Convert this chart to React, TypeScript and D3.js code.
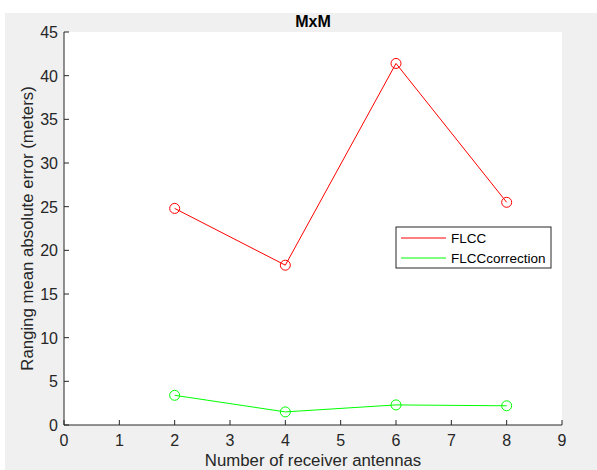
import React from "react";
import * as d3 from "d3";

const xValues = [2, 4, 6, 8];
const flcc = [24.8, 18.3, 41.4, 25.5];
const flccCorrection = [3.4, 1.5, 2.3, 2.2];
const xTicks = [0, 1, 2, 3, 4, 5, 6, 7, 8, 9];
const yTicks = [0, 5, 10, 15, 20, 25, 30, 35, 40, 45];
const seriesNames = ["FLCC", "FLCCcorrection"];
const seriesColors = ["#ff0000", "#00ff00"];

export default function App() {
  const W = 597, H = 470;
  const left = 64, right = 562, top = 32, bottom = 425;
  const x = d3.scaleLinear().domain([0, 9]).range([left, right]);
  const y = d3.scaleLinear().domain([0, 45]).range([bottom, top]);
  const line = d3.line<number>().x((_, i) => x(xValues[i])).y((d) => y(d));
  const series = [flcc, flccCorrection];
  const font = "'Liberation Sans', Arial, Helvetica, sans-serif";
  const lx = 396, ly = 227, lw = 155, lh = 41;
  return (
    <svg width={W} height={H} style={{ position: "absolute", left: 0, top: 0 }} fontFamily={font}>
      <rect x={0} y={0} width={W} height={H} fill="#ffffff" />
      <rect x={5} y={13} width={W - 5} height={H - 13} fill="#f0f0f0" />
      <rect x={left} y={top} width={right - left} height={bottom - top} fill="#ffffff" />
      <text x={(left + right) / 2} y={27} textAnchor="middle" fontSize={16} fontWeight="bold" fill="#000">MxM</text>
      {/* axes */}
      <line x1={left} y1={bottom} x2={right} y2={bottom} stroke="#262626" strokeWidth={1} />
      <line x1={left} y1={bottom} x2={left} y2={top} stroke="#262626" strokeWidth={1} />
      {xTicks.map((t) => (
        <g key={"x" + t}>
          <line x1={x(t)} x2={x(t)} y1={bottom} y2={bottom - 5} stroke="#262626" />
          <text x={x(t)} y={bottom + 21} textAnchor="middle" fontSize={16} fill="#262626">{t}</text>
        </g>
      ))}
      {yTicks.map((t) => (
        <g key={"y" + t}>
          <line x1={left} x2={left + 5} y1={y(t)} y2={y(t)} stroke="#262626" />
          <text x={left - 6} y={y(t) + 6} textAnchor="end" fontSize={16} fill="#262626">{t}</text>
        </g>
      ))}
      <text x={313} y={H - 4} textAnchor="middle" fontSize={16.8} fill="#262626">Number of receiver antennas</text>
      <text transform={`translate(33,${(top + bottom) / 2}) rotate(-90)`} textAnchor="middle" fontSize={16.8} fill="#262626">Ranging mean absolute error (meters)</text>
      {series.map((s, k) => (
        <g key={"s" + k}>
          <path d={line(s) || ""} fill="none" stroke={seriesColors[k]} strokeWidth={1} />
          {s.map((v, i) => (
            <circle key={i} cx={x(xValues[i])} cy={y(v)} r={5} fill="none" stroke={seriesColors[k]} strokeWidth={1} />
          ))}
        </g>
      ))}
      <rect x={lx} y={ly} width={lw} height={lh} fill="#ffffff" stroke="#262626" strokeWidth={1} />
      {seriesNames.map((n, k) => (
        <g key={"l" + k}>
          <line x1={lx + 5} x2={lx + 50} y1={ly + 11 + k * 20} y2={ly + 11 + k * 20} stroke={seriesColors[k]} />
          <text x={lx + 55} y={ly + 16 + k * 20} fontSize={13.5} fill="#000">{n}</text>
        </g>
      ))}
    </svg>
  );
}
